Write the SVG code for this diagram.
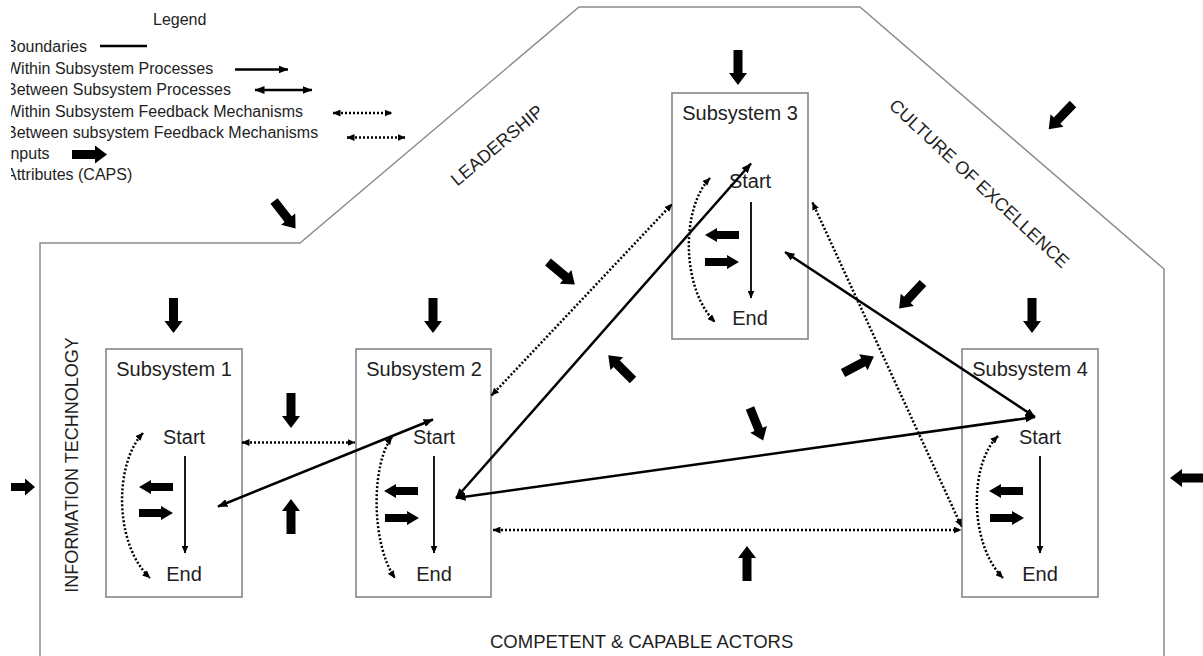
<svg xmlns="http://www.w3.org/2000/svg" width="1203" height="656" viewBox="0 0 1203 656">
<defs>
<style>
.t{font-family:"Liberation Sans",Arial,sans-serif;fill:#1e1e1e}
.lg{font-size:16px}
.bt{font-size:20px}
.cap{font-size:18px}
.cap2{font-size:18.5px}
.bd{fill:none;stroke:#8c8c8c;stroke-width:1.5}
.bx{fill:none;stroke:#7f7f7f;stroke-width:1.5}
.sl{fill:none;stroke:#000;stroke-width:2.5}
.dl{fill:none;stroke:#000;stroke-width:2.5;stroke-dasharray:2 2}
.vl{fill:none;stroke:#000;stroke-width:1.8}
.blk{fill:#000}
</style>
<marker id="ah" viewBox="0 0 10 8" refX="9.5" refY="4" markerWidth="10" markerHeight="8" markerUnits="userSpaceOnUse" orient="auto-start-reverse"><path d="M0,0 L10,4 L0,8 Z" fill="#000"/></marker>
<marker id="ad" viewBox="0 0 8 7" refX="7.5" refY="3.5" markerWidth="8" markerHeight="7" markerUnits="userSpaceOnUse" orient="auto-start-reverse"><path d="M0,0 L8,3.5 L0,7 Z" fill="#000"/></marker>
<path id="inp" d="M0,-4.5 H23 V-9 L35,0 L23,9 V4.5 H0 Z"/>
<path id="sml" d="M0,-4 H22 V-7 L34,0 L22,7 V4 H0 Z"/>
<clipPath id="lc"><rect x="11" y="30" width="420" height="170"/></clipPath>
</defs>
<rect width="1203" height="656" fill="#fff"/>

<g id="boundary">
<path class="bd" d="M40,656 V243 H300 L579,7 H860 L1164,269 V656"/>
</g>

<g id="legend">
<text class="t lg" x="153" y="25">Legend</text>
<g clip-path="url(#lc)">
<text class="t lg" x="6" y="52">Boundaries</text>
<text class="t lg" x="6" y="74">Within Subsystem Processes</text>
<text class="t lg" x="6" y="95">Between Subsystem Processes</text>
<text class="t lg" x="6" y="117">Within Subsystem Feedback Mechanisms</text>
<text class="t lg" x="6" y="138">Between subsystem Feedback Mechanisms</text>
<text class="t lg" x="6" y="159">Inputs</text>
<text class="t lg" x="6" y="180">Attributes (CAPS)</text>
</g>
<line class="sl" x1="100" y1="46" x2="147" y2="46"/>
<line class="sl" x1="235" y1="69.5" x2="288" y2="69.5" marker-end="url(#ah)"/>
<line class="sl" x1="255" y1="90" x2="312" y2="90" marker-start="url(#ah)" marker-end="url(#ah)"/>
<line class="dl" x1="333" y1="113" x2="392" y2="113" marker-start="url(#ad)" marker-end="url(#ad)"/>
<line class="dl" x1="347" y1="137.5" x2="405" y2="137.5" marker-start="url(#ad)" marker-end="url(#ad)"/>
<use href="#inp" class="blk" transform="translate(72,154.5)"/>
</g>

<g id="labels">
<text class="t cap" text-anchor="middle" transform="translate(501,150) rotate(-40)">LEADERSHIP</text>
<text class="t cap" text-anchor="middle" transform="translate(975,188) rotate(43)">CULTURE OF EXCELLENCE</text>
<text class="t cap" text-anchor="middle" transform="translate(78,465) rotate(-90)">INFORMATION TECHNOLOGY</text>
<text class="t cap2" x="490" y="648">COMPETENT &amp; CAPABLE ACTORS</text>
</g>

<g id="sub1" transform="translate(106,349)">
<rect class="bx" x="0" y="0" width="136" height="248"/>
<text class="t bt" x="68" y="27" text-anchor="middle">Subsystem 1</text>
<text class="t bt" x="78" y="95" text-anchor="middle">Start</text>
<text class="t bt" x="78" y="232" text-anchor="middle">End</text>
<line class="vl" x1="79" y1="107" x2="79" y2="204" marker-end="url(#ad)"/>
<use href="#sml" class="blk" transform="translate(67,138) rotate(180)"/>
<use href="#sml" class="blk" transform="translate(33,164)"/>
<path class="dl" d="M37,84 C8,115 8,195 44,229" marker-start="url(#ad)" marker-end="url(#ad)"/>
</g>

<g id="sub2" transform="translate(356,349)">
<rect class="bx" x="0" y="0" width="135" height="248"/>
<text class="t bt" x="68" y="27" text-anchor="middle">Subsystem 2</text>
<text class="t bt" x="78" y="95" text-anchor="middle">Start</text>
<text class="t bt" x="78" y="232" text-anchor="middle">End</text>
<line class="vl" x1="78" y1="107" x2="78" y2="204" marker-end="url(#ad)"/>
<use href="#sml" class="blk" transform="translate(62,142) rotate(180)"/>
<use href="#sml" class="blk" transform="translate(29,169)"/>
<path class="dl" d="M36,88 C15,115 15,195 39,229" marker-start="url(#ad)" marker-end="url(#ad)"/>
</g>

<g id="sub3" transform="translate(672,93)">
<rect class="bx" x="0" y="0" width="136" height="246"/>
<text class="t bt" x="68" y="27" text-anchor="middle">Subsystem 3</text>
<text class="t bt" x="78" y="95" text-anchor="middle">Start</text>
<text class="t bt" x="78" y="232" text-anchor="middle">End</text>
<line class="vl" x1="79" y1="109" x2="79" y2="205" marker-end="url(#ad)"/>
<use href="#sml" class="blk" transform="translate(67,142) rotate(180)"/>
<use href="#sml" class="blk" transform="translate(33,169)"/>
<path class="dl" d="M38,85 C9,115 9,195 43,229" marker-start="url(#ad)" marker-end="url(#ad)"/>
</g>

<g id="sub4" transform="translate(962,349)">
<rect class="bx" x="0" y="0" width="136" height="248"/>
<text class="t bt" x="68" y="27" text-anchor="middle">Subsystem 4</text>
<text class="t bt" x="78" y="95" text-anchor="middle">Start</text>
<text class="t bt" x="78" y="232" text-anchor="middle">End</text>
<line class="vl" x1="78" y1="107" x2="78" y2="204" marker-end="url(#ad)"/>
<use href="#sml" class="blk" transform="translate(61,142) rotate(180)"/>
<use href="#sml" class="blk" transform="translate(28,169)"/>
<path class="dl" d="M36,87 C7,115 7,195 41,229" marker-start="url(#ad)" marker-end="url(#ad)"/>
</g>

<g id="inputs" class="blk">
<use href="#inp" transform="translate(274,201) rotate(52)"/>
<use href="#inp" transform="translate(173.5,298) rotate(90)"/>
<use href="#inp" transform="translate(433,298) rotate(90)"/>
<use href="#inp" transform="translate(291,393) rotate(90)"/>
<use href="#inp" transform="translate(291,534) rotate(-90)"/>
<use href="#inp" transform="translate(738,50) rotate(90)"/>
<use href="#inp" transform="translate(1073,104) rotate(134)"/>
<use href="#inp" transform="translate(548,262) rotate(40)"/>
<use href="#inp" transform="translate(633,380) rotate(-135)"/>
<use href="#inp" transform="translate(750,408) rotate(68)"/>
<use href="#inp" transform="translate(843,373) rotate(-28)"/>
<use href="#inp" transform="translate(923,283) rotate(133)"/>
<use href="#inp" transform="translate(1032,298) rotate(90)"/>
<use href="#inp" transform="translate(747,581) rotate(-90)"/>
<path d="M11,483 H25 V478.5 L35,487 L25,495.5 V491 H11 Z"/>
<path d="M1170,478 L1182,469 V473.5 H1210 V482.5 H1182 V487 Z"/>
</g>

<g id="connectors">
<line class="sl" x1="218" y1="506.5" x2="433" y2="419.5" marker-start="url(#ah)" marker-end="url(#ah)"/>
<line class="sl" x1="456" y1="498" x2="751" y2="163.5" marker-start="url(#ah)" marker-end="url(#ah)"/>
<line class="sl" x1="456" y1="498" x2="1035" y2="417" marker-start="url(#ah)" marker-end="url(#ah)"/>
<line class="sl" x1="1035" y1="417" x2="785" y2="252" marker-start="url(#ah)" marker-end="url(#ah)"/>
<line class="dl" x1="242" y1="442.5" x2="355" y2="442.5" marker-start="url(#ad)" marker-end="url(#ad)"/>
<line class="dl" x1="491.5" y1="395.5" x2="672" y2="204" marker-start="url(#ad)" marker-end="url(#ad)"/>
<line class="dl" x1="812.5" y1="202.5" x2="961.5" y2="526.5" marker-start="url(#ad)" marker-end="url(#ad)"/>
<line class="dl" x1="493" y1="530" x2="961" y2="530" marker-start="url(#ad)" marker-end="url(#ad)"/>
</g>
</svg>
